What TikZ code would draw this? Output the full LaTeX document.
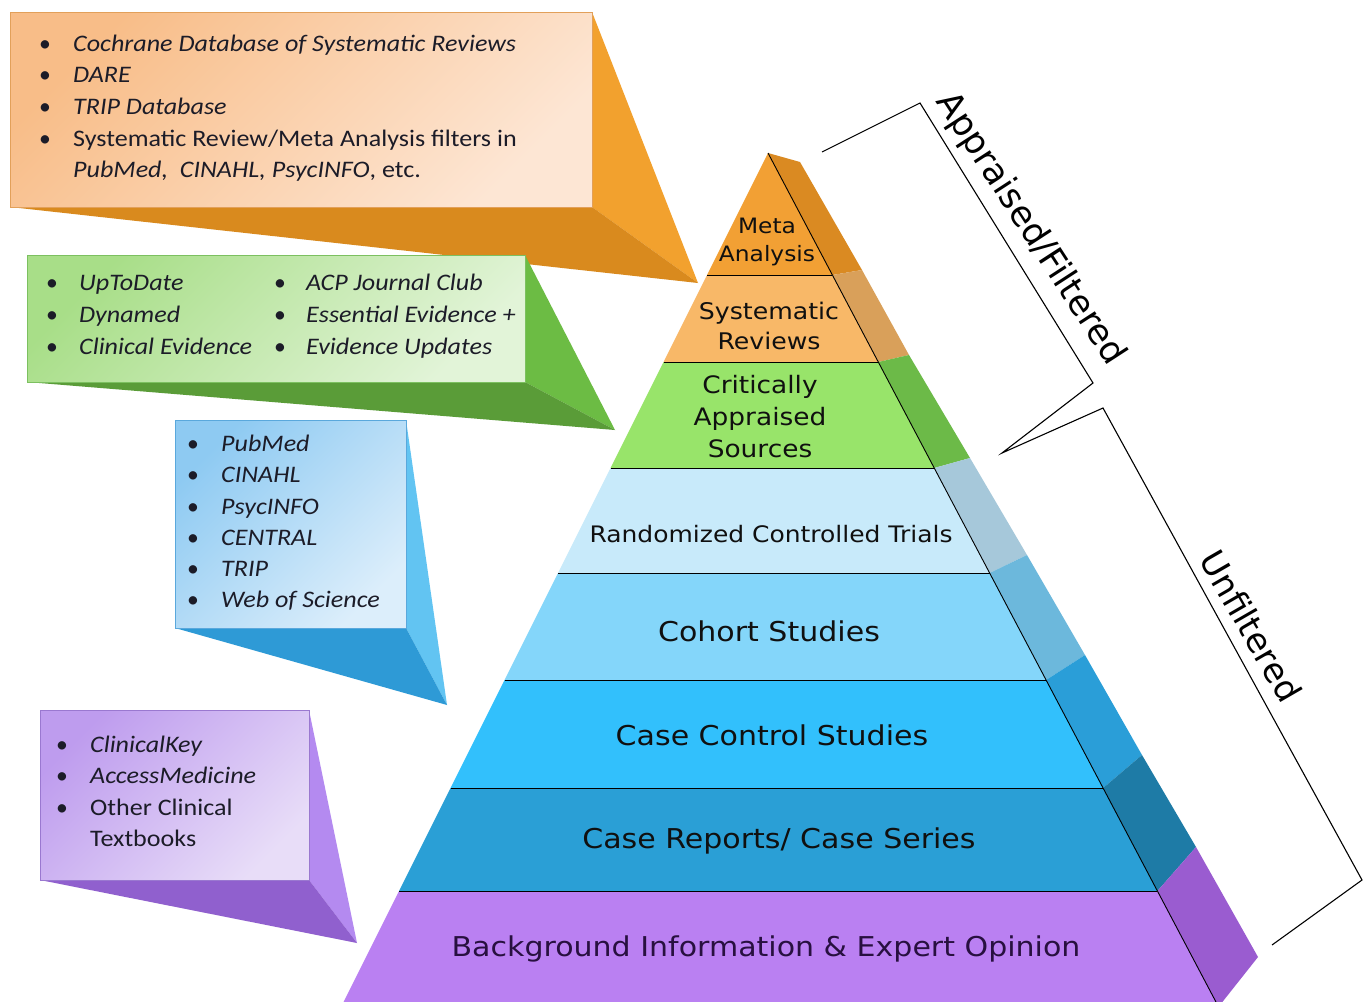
\documentclass[tikz,border=0pt]{standalone}
\usepackage{fontspec}
\setmainfont{DejaVu Sans}
\newfontfamily\calib{Carlito}
\newcommand{\hsx}[1]{\scalebox{1.1}[1]{#1}}
\definecolor{metaf}{HTML}{F2A034}
\definecolor{metas}{HTML}{DA8A22}
\definecolor{sysf}{HTML}{F8B868}
\definecolor{syss}{HTML}{D9A05A}
\definecolor{critf}{HTML}{98E46A}
\definecolor{crits}{HTML}{6CBA48}
\definecolor{rctf}{HTML}{C8EAFA}
\definecolor{rcts}{HTML}{A6C8DA}
\definecolor{cohf}{HTML}{84D6FA}
\definecolor{cohs}{HTML}{6CB8DC}
\definecolor{ccf}{HTML}{32C0FC}
\definecolor{ccs}{HTML}{2A9ED8}
\definecolor{crf}{HTML}{2A9FD6}
\definecolor{crs}{HTML}{1E7BA6}
\definecolor{bgf}{HTML}{BA80F2}
\definecolor{bgs}{HTML}{9A5CD0}
\definecolor{txtc}{HTML}{1C1C28}
\definecolor{pyrtext}{HTML}{101010}
\begin{document}
\begin{tikzpicture}[x=1pt,y=-1pt,
  bul/.style={font=\calib\fontsize{23.7}{28}\selectfont\itshape, anchor=base west, inner sep=0pt, text=txtc},
  bulup/.style={bul, font=\calib\fontsize{23.7}{28}\selectfont},
  dot/.style={font=\calib\fontsize{23.7}{28}\selectfont, anchor=base, inner sep=0pt, text=txtc},
  pyr/.style={inner sep=0pt, text=pyrtext},
  big/.style={pyr, font=\fontsize{27.3}{32}\selectfont},
  brk/.style={draw=black, line width=1.1pt, line join=miter},
  side/.style={font=\fontsize{35}{40}\selectfont, text=black, inner sep=0pt},
  edge/.style={draw=black, line width=0.9pt}
]
\useasboundingbox (0,0) rectangle (1364,1001);
\clip (0,0) rectangle (1364,1001);
\fill[white] (0,0) rectangle (1364,1001);

% ---------- callouts ----------
% orange
\fill[color={rgb,255:red,242;green,161;blue,46}] (592,12) -- (698,283) -- (592,207) -- cycle;
\fill[color={rgb,255:red,217;green,138;blue,30}] (10,207) -- (592,207) -- (698,283) -- cycle;
\path[draw={rgb,255:red,226;green,160;blue,90}, line width=0.8pt, top color={rgb,255:red,248;green,189;blue,136}, bottom color={rgb,255:red,253;green,230;blue,212}, shading angle=45] (10,12) rectangle (592,207);
% green
\fill[color={rgb,255:red,108;green,188;blue,68}] (525,255) -- (615,430) -- (525,382) -- cycle;
\fill[color={rgb,255:red,90;green,156;blue,56}] (27,382) -- (525,382) -- (615,430) -- cycle;
\path[draw={rgb,255:red,124;green,192;blue,96}, line width=0.8pt, top color={rgb,255:red,168;green,222;blue,136}, bottom color={rgb,255:red,226;green,244;blue,216}, shading angle=45] (27,255) rectangle (525,382);
% blue
\fill[color={rgb,255:red,98;green,196;blue,242}] (406,420) -- (447,705) -- (406,628) -- cycle;
\fill[color={rgb,255:red,46;green,154;blue,214}] (175,628) -- (406,628) -- (447,705) -- cycle;
\path[draw={rgb,255:red,90;green,168;blue,220}, line width=0.8pt, top color={rgb,255:red,142;green,202;blue,242}, bottom color={rgb,255:red,220;green,238;blue,251}, shading angle=45] (175,420) rectangle (406,628);
% purple
\fill[color={rgb,255:red,180;green,138;blue,240}] (309,710) -- (357,943) -- (309,880) -- cycle;
\fill[color={rgb,255:red,144;green,96;blue,206}] (40,880) -- (309,880) -- (357,943) -- cycle;
\path[draw={rgb,255:red,154;green,120;blue,208}, line width=0.8pt, top color={rgb,255:red,190;green,156;blue,238}, bottom color={rgb,255:red,232;green,221;blue,248}, shading angle=45] (40,710) rectangle (309,880);

% ---------- pyramid faces ----------
\fill[metaf] (768,153) -- (832.4,275) -- (707,275) -- cycle;
\fill[sysf] (707,275) -- (832.4,275) -- (878.3,362) -- (663.5,362) -- cycle;
\fill[critf] (663.5,362) -- (878.3,362) -- (934.2,468) -- (610.5,468) -- cycle;
\fill[rctf] (610.5,468) -- (934.2,468) -- (989.6,573) -- (558,573) -- cycle;
\fill[cohf] (558,573) -- (989.6,573) -- (1046.1,680) -- (504.5,680) -- cycle;
\fill[ccf] (504.5,680) -- (1046.1,680) -- (1103.1,788) -- (450.5,788) -- cycle;
\fill[crf] (450.5,788) -- (1103.1,788) -- (1157.4,891) -- (399,891) -- cycle;
\fill[bgf] (399,891) -- (1157.4,891) -- (1220.2,1010) -- (339.5,1010) -- cycle;
% sides
\fill[metas] (768,153) -- (800,162) -- (862,270) -- (832.4,275) -- cycle;
\fill[syss] (832.4,275) -- (862,270) -- (909,355) -- (878.3,362) -- cycle;
\fill[crits] (878.3,362) -- (909,355) -- (970,458) -- (934.2,468) -- cycle;
\fill[rcts] (934.2,468) -- (970,458) -- (1027,555) -- (989.6,573) -- cycle;
\fill[cohs] (989.6,573) -- (1027,555) -- (1085,655) -- (1046.1,680) -- cycle;
\fill[ccs] (1046.1,680) -- (1085,655) -- (1142,755) -- (1103.1,788) -- cycle;
\fill[crs] (1103.1,788) -- (1142,755) -- (1196,847) -- (1157.4,891) -- cycle;
\fill[bgs] (1157.4,891) -- (1196,847) -- (1258,957) -- (1216,1010) -- (1220.2,1010) -- cycle;
% outlines
\draw[edge] (768,153) -- (1220.2,1010);
\draw[edge] (707,275) -- (832.4,275);
\draw[edge] (663.5,362) -- (878.3,362);
\draw[edge] (610.5,468) -- (934.2,468);
\draw[edge] (558,573) -- (989.6,573);
\draw[edge] (504.5,680) -- (1046.1,680);
\draw[edge] (450.5,788) -- (1103.1,788);
\draw[edge] (399,891) -- (1157.4,891);

% ---------- pyramid labels ----------
\node[pyr, font=\fontsize{21.2}{28}\selectfont] (meta) at (767,242) {\hsx{\begin{tabular}{@{}c@{}}Meta\\Analysis\end{tabular}}};
\node[pyr, font=\fontsize{22.9}{30}\selectfont] (sys) at (769,328) {\hsx{\begin{tabular}{@{}c@{}}Systematic\\Reviews\end{tabular}}};
\node[pyr, font=\fontsize{24}{32}\selectfont] (crit) at (760,419) {\hsx{\begin{tabular}{@{}c@{}}Critically\\Appraised\\Sources\end{tabular}}};
\node[pyr, font=\fontsize{22.7}{28}\selectfont] (rct) at (771,534) {\hsx{Randomized Controlled Trials}};
\node[big] (coh) at (769,631) {\hsx{Cohort Studies}};
\node[big] (cc) at (772,735) {\hsx{Case Control Studies}};
\node[big] (cr) at (779,841) {\hsx{Case Reports/ Case Series}};
\node[big, text={rgb,255:red,40;green,16;blue,64}] (bg) at (766,949) {\hsx{Background Information \& Expert Opinion}};

% ---------- brackets ----------
\draw[brk] (822,152) -- (920,103) -- (1093,383) -- (1002,453) -- (1103,408) -- (1362,880) -- (1272,945);
\node[side, rotate=-57] (appr) at (1030,229) {Appraised/Filtered};
\node[side, font=\fontsize{34}{40}\selectfont, rotate=-60] (unf) at (1251,626) {Unfiltered};

% ---------- callout texts ----------
% orange
\node[dot] (ob1) at (45,51) {•};
\node[dot] (ob2) at (45,82) {•};
\node[dot] (ob3) at (45,114) {•};
\node[dot] (ob4) at (45,146) {•};
\node[bul] (ot1) at (73,51) {\hsx{Cochrane Database of Systematic Reviews}};
\node[bul] (ot2) at (73,82) {\hsx{DARE}};
\node[bul] (ot3) at (73,114) {\hsx{TRIP Database}};
\node[bulup] (ot4) at (73,146) {\hsx{Systematic Review/Meta Analysis filters in}};
\node[bulup] (ot5) at (73,177) {\hsx{\itshape PubMed,\ \ CINAHL, PsycINFO\upshape, etc.}};
% green
\node[dot] (gb1) at (52,290) {•};
\node[dot] (gb2) at (52,322) {•};
\node[dot] (gb3) at (52,354) {•};
\node[dot] (gb4) at (280,290) {•};
\node[dot] (gb5) at (280,322) {•};
\node[dot] (gb6) at (280,354) {•};
\node[bul] (gt1) at (79,290) {\hsx{UpToDate}};
\node[bul] (gt2) at (79,322) {\hsx{Dynamed}};
\node[bul] (gt3) at (79,354) {\hsx{Clinical Evidence}};
\node[bul] (gt4) at (306,290) {\hsx{ACP Journal Club}};
\node[bul] (gt5) at (306,322) {\hsx{Essential Evidence +}};
\node[bul] (gt6) at (306,354) {\hsx{Evidence Updates}};
% blue
\node[dot] (bb1) at (193,451) {•};
\node[dot] (bb2) at (193,482) {•};
\node[dot] (bb3) at (193,514) {•};
\node[dot] (bb4) at (193,545) {•};
\node[dot] (bb5) at (193,576) {•};
\node[dot] (bb6) at (193,607) {•};
\node[bul] (bt1) at (221,451) {\hsx{PubMed}};
\node[bul] (bt2) at (221,482) {\hsx{CINAHL}};
\node[bul] (bt3) at (221,514) {\hsx{PsycINFO}};
\node[bul] (bt4) at (221,545) {\hsx{CENTRAL}};
\node[bul] (bt5) at (221,576) {\hsx{TRIP}};
\node[bul] (bt6) at (221,607) {\hsx{Web of Science}};
% purple
\node[dot] (pb1) at (62,752) {•};
\node[dot] (pb2) at (62,783) {•};
\node[dot] (pb3) at (62,815) {•};
\node[bul] (pt1) at (90,752) {\hsx{ClinicalKey}};
\node[bul] (pt2) at (90,783) {\hsx{AccessMedicine}};
\node[bulup] (pt3) at (90,815) {\hsx{Other Clinical}};
\node[bulup] (pt4) at (90,846) {\hsx{Textbooks}};
\end{tikzpicture}
\end{document}
